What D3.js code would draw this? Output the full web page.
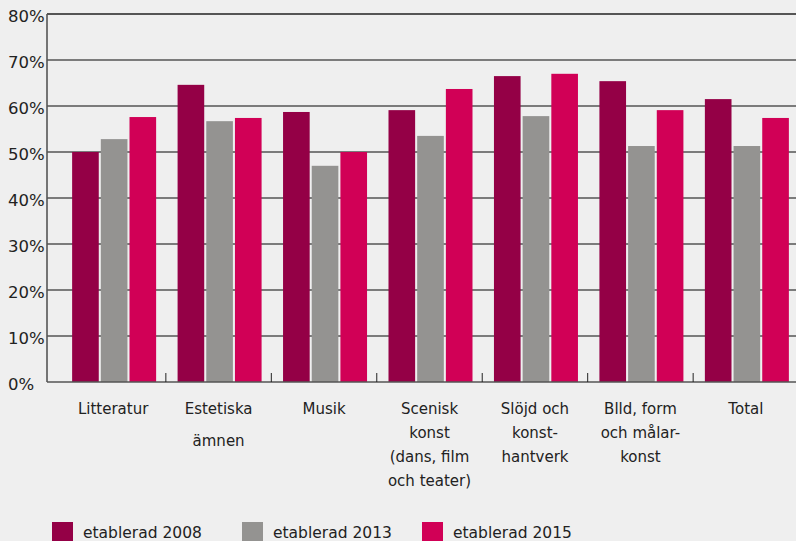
<!DOCTYPE html>
<html><head><meta charset="utf-8">
<script src="https://cdn.jsdelivr.net/npm/d3@7"></script>
<style>html,body{margin:0;padding:0;background:#efefef;}svg{display:block;}</style>
</head><body>
<svg id="c" width="796" height="541"></svg>
<script>
const categories = [
  ["Litteratur"],
  ["Estetiska", "ämnen"],
  ["Musik"],
  ["Scenisk", "konst", "(dans, film", "och teater)"],
  ["Slöjd och", "konst-", "hantverk"],
  ["Blld, form", "och målar-", "konst"],
  ["Total"]
];
const seriesNames = ["etablerad 2008", "etablerad 2013", "etablerad 2015"];
const values2008 = [50.0, 64.6, 58.7, 59.1, 66.5, 65.4, 61.5];
const values2013 = [52.8, 56.7, 47.0, 53.5, 57.8, 51.3, 51.3];
const values2015 = [57.6, 57.4, 50.0, 63.7, 67.0, 59.1, 57.4];
const yTicks = [0, 10, 20, 30, 40, 50, 60, 70, 80];
const colors = ["#940046", "#949391", "#d10056"];

const series = [values2008, values2013, values2015];
const svg = d3.select("#c");
const font = "DejaVu Sans, sans-serif";

const x = d3.scaleBand().domain(d3.range(categories.length)).range([60.4, 798.6]);
const xs = d3.scaleBand().domain(d3.range(3)).range([0, 84]).paddingInner(2/28);
const y = d3.scaleLinear().domain([0, 80]).range([382, 14]);
const axisX = 47;

// gridlines
svg.append("g").selectAll("line").data(yTicks.filter(d => d > 0)).join("line")
  .attr("x1", axisX).attr("x2", 796)
  .attr("y1", d => y(d)).attr("y2", d => y(d))
  .attr("stroke", d => d === 80 ? "#222" : "#555").attr("stroke-width", 1.6);

// y labels
svg.append("g").selectAll("text").data(yTicks).join("text")
  .attr("x", 8).attr("y", d => y(d) + 8)
  .attr("font-family", font).attr("font-size", 16.5).attr("fill", "#222")
  .text(d => d + "%");

// bars
const groups = svg.append("g").selectAll("g").data(categories).join("g")
  .attr("transform", (d, i) => `translate(${x(i) + (x.bandwidth() - 84) / 2 + 1},0)`);
groups.selectAll("rect").data((d, i) => series.map((s, k) => ({k, v: s[i]}))).join("rect")
  .attr("x", d => xs(d.k)).attr("width", xs.bandwidth())
  .attr("y", d => y(d.v)).attr("height", d => y(0) - y(d.v))
  .attr("fill", d => colors[d.k]);

// axes lines
svg.append("line").attr("x1", axisX).attr("x2", axisX).attr("y1", y(80)).attr("y2", y(0))
  .attr("stroke", "#555").attr("stroke-width", 1.6);
svg.append("line").attr("x1", axisX).attr("x2", 796).attr("y1", y(0)).attr("y2", y(0))
  .attr("stroke", "#555").attr("stroke-width", 1.6);

// tick marks at band boundaries
svg.append("g").selectAll("line").data(d3.range(1, categories.length)).join("line")
  .attr("x1", i => x(i)).attr("x2", i => x(i))
  .attr("y1", y(0) - 9).attr("y2", y(0))
  .attr("stroke", "#222").attr("stroke-width", 1);

// x labels
const lab = svg.append("g").selectAll("text").data(categories).join("text")
  .attr("font-family", font).attr("font-size", 15).attr("fill", "#222")
  .attr("text-anchor", "middle")
  .attr("transform", (d, i) => `translate(${x(i) + x.bandwidth() / 2},414)`);
lab.selectAll("tspan").data(d => d.map((t, j) => ({t, j, n: d}))).join("tspan")
  .attr("x", 0)
  .attr("y", d => d.j * (d.n[0] === "Estetiska" ? 32 : 24))
  .text(d => d.t);

// legend
const legX = [52, 242, 422];
const leg = svg.append("g").selectAll("g").data(seriesNames).join("g")
  .attr("transform", (d, i) => `translate(${legX[i]},522)`);
leg.append("rect").attr("width", 21).attr("height", 21).attr("fill", (d, i) => colors[i]);
leg.append("text").attr("x", 31).attr("y", 16)
  .attr("font-family", font).attr("font-size", 15.5).attr("fill", "#222").text(d => d);
</script>
</body></html>
